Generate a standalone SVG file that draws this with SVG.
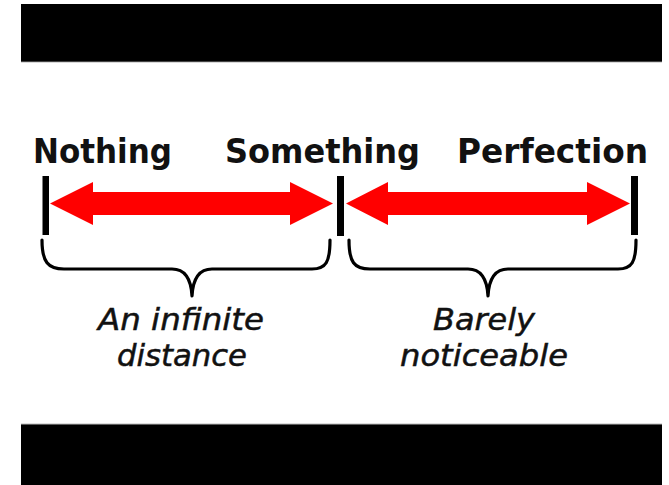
<svg xmlns="http://www.w3.org/2000/svg" width="669" height="485" viewBox="0 0 669 485">
<style>
.bar{fill:#000}
.tick{fill:#000}
.arrow{fill:#ff0000}
.brace{fill:none;stroke:#000;stroke-width:3.2;stroke-linecap:round;stroke-linejoin:round}
.head{font-family:"DejaVu Sans",sans-serif;font-weight:bold;font-size:33px;fill:#111}
.note{font-family:"DejaVu Sans",sans-serif;font-style:italic;font-size:30px;fill:#111;text-anchor:middle;stroke:#111;stroke-width:0.5}
</style>
<rect width="669" height="485" fill="#fff"/>
<rect class="bar" x="21" y="4" width="641" height="58"/>
<rect x="21" y="61" width="641" height="1.2" fill="#444"/>
<rect class="bar" x="21" y="424" width="641" height="61"/>
<rect x="21" y="423.5" width="641" height="1" fill="#bbb"/>
<g id="nothing">
<text class="head" x="33" y="163" textLength="139" lengthAdjust="spacingAndGlyphs">Nothing</text>
<rect class="tick" x="42.5" y="176" width="6.5" height="59"/>
</g>
<g id="something">
<text class="head" x="225" y="163" textLength="195" lengthAdjust="spacingAndGlyphs">Something</text>
<rect class="tick" x="337" y="176" width="7" height="60"/>
</g>
<g id="perfection">
<text class="head" x="457" y="163" textLength="191" lengthAdjust="spacingAndGlyphs">Perfection</text>
<rect class="tick" x="631" y="176" width="7" height="59"/>
</g>
<g id="connectors">
<polygon class="arrow" points="50,203.5 93,182 93,192 290,192 290,182 333,203.5 290,225 290,215 93,215 93,225"/>
<polygon class="arrow" points="346,203.5 388,182 388,192 587,192 587,182 630,203.5 587,225 587,215 388,215 388,225"/>
<path class="brace" d="M42,240 C42,262 48,269 64,269 L172,269 C184,269 191,278 192,296 C193,278 200,269 212,269 L312,269 C326,269 330,262 330,240"/>
<path class="brace" d="M349,240 C349,262 354,269 370,269 L468,269 C480,269 487,278 488,296 C489,278 496,269 508,269 L618,269 C632,269 636,262 636,240"/>
</g>
<g id="infinite">
<text class="note" x="181" y="330" textLength="166" lengthAdjust="spacingAndGlyphs">An infinite</text>
<text class="note" x="182" y="366" textLength="130" lengthAdjust="spacingAndGlyphs">distance</text>
</g>
<g id="barely">
<text class="note" x="484" y="330" textLength="102" lengthAdjust="spacingAndGlyphs">Barely</text>
<text class="note" x="484" y="366" textLength="168" lengthAdjust="spacingAndGlyphs">noticeable</text>
</g>
</svg>
